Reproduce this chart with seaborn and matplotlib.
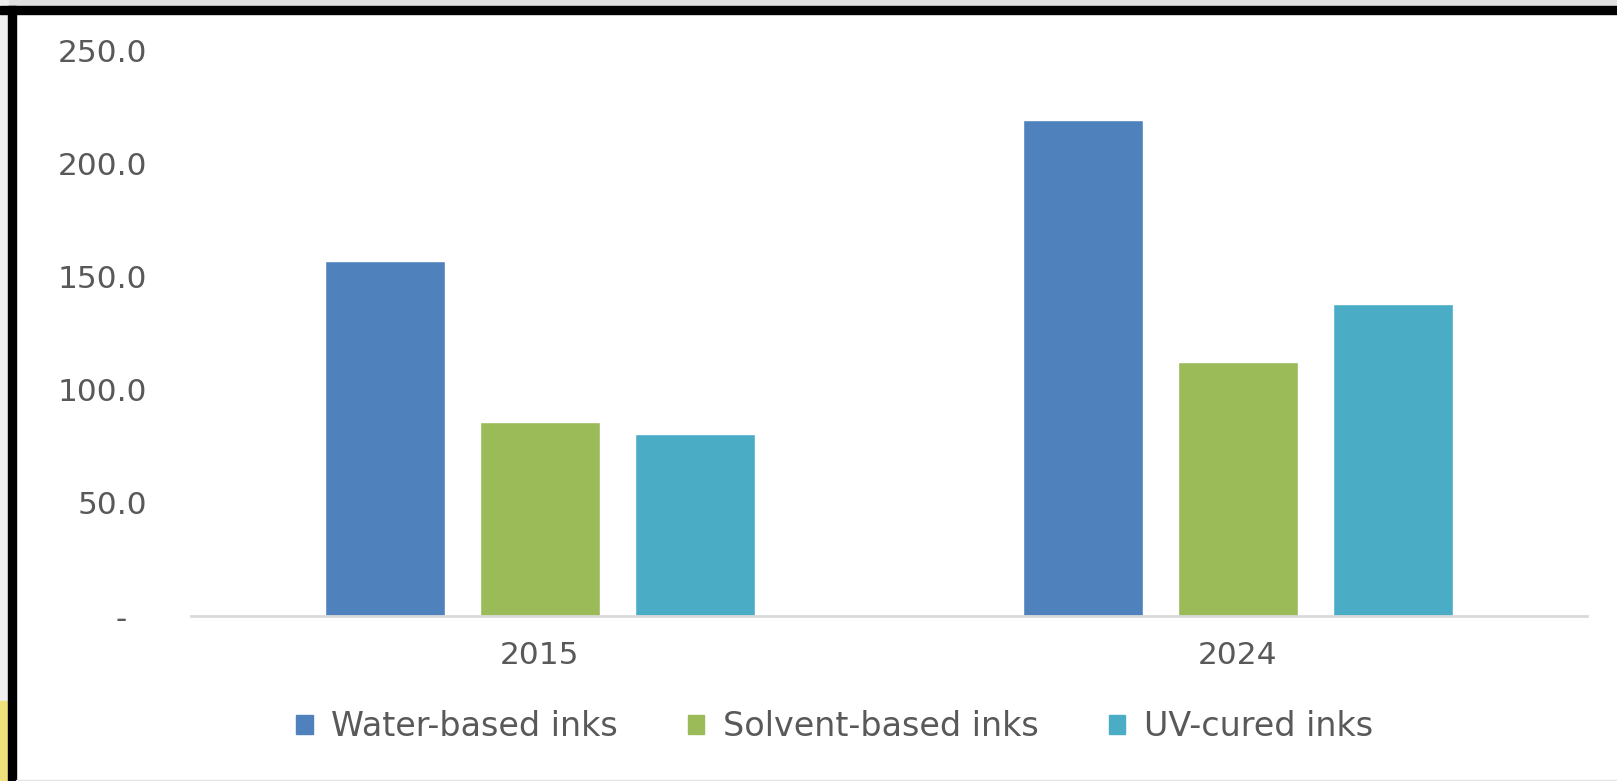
import matplotlib
matplotlib.use('Agg')
import matplotlib.pyplot as plt
import matplotlib.patches as mpatches
import seaborn as sns
import pandas as pd

# data
years = ['2015', '2024']
ink_types = ['Water-based inks', 'Solvent-based inks', 'UV-cured inks']
water_based = [157.0, 219.5]
solvent_based = [86.0, 112.5]
uv_cured = [80.5, 138.0]
y_ticks = [0, 50, 100, 150, 200, 250]
y_tick_labels = ['-  ', '50.0', '100.0', '150.0', '200.0', '250.0']

colors = ['#4F81BD', '#9BBB59', '#4BACC6']

# long table for seaborn
df = pd.DataFrame({
    'year': years * 3,
    'ink': [ink_types[0]] * 2 + [ink_types[1]] * 2 + [ink_types[2]] * 2,
    'value': water_based + solvent_based + uv_cured,
})

sns.set_theme(style='white')
plt.rcParams['font.family'] = ['DejaVu Sans']

fig = plt.figure(figsize=(16.17, 7.81), dpi=100)
fig.patch.set_facecolor('white')

# screenshot frame: grey strip, black border lines
fig.patches.append(mpatches.Rectangle((0, 1 - 6 / 781), 1, 6 / 781, transform=fig.transFigure,
                                      color='#e0e0e0', zorder=0))
fig.patches.append(mpatches.Rectangle((0, 0), 8 / 1617, 1, transform=fig.transFigure,
                                      color='#efefef', zorder=0))
fig.patches.append(mpatches.Rectangle((0, 0), 8 / 1617, 80 / 781, transform=fig.transFigure,
                                      color='#f0e27a', zorder=0))
fig.patches.append(mpatches.Rectangle((0, 1 - 14 / 781), 1, 8 / 781, transform=fig.transFigure,
                                      color='black', zorder=1))
fig.patches.append(mpatches.Rectangle((8 / 1617, 0), 8 / 1617, 1 - 6 / 781, transform=fig.transFigure,
                                      color='black', zorder=1))
fig.patches.append(mpatches.Rectangle((16 / 1617, 0), 1, 1.5 / 781, transform=fig.transFigure,
                                      color='#e4e4e4', zorder=1))

ax = fig.add_axes([191 / 1617, 1 - 616 / 781, 1396 / 1617, 565 / 781])
ax.set_facecolor('none')

sns.barplot(data=df, x='year', y='value', hue='ink', order=years, hue_order=ink_types,
            palette=colors, width=0.666, gap=0.22, errorbar=None, saturation=1,
            legend=False, ax=ax)

ax.set_xlim(-0.5, 1.5)
ax.set_ylim(0, 250)
ax.set_yticks(y_ticks)
ax.set_yticklabels(y_tick_labels)
ax.set_xlabel('')
ax.set_ylabel('')
ax.tick_params(axis='both', length=0, labelsize=22.5, labelcolor='#595959')
ax.tick_params(axis='y', pad=31.5)
ax.tick_params(axis='x', pad=18)

for side in ['top', 'right', 'left']:
    ax.spines[side].set_visible(False)
ax.spines['bottom'].set_color('#d9d9d9')
ax.spines['bottom'].set_linewidth(2)

handles = [mpatches.Patch(color=c, label=l) for c, l in zip(colors, ink_types)]
leg = fig.legend(handles=handles, loc='center', bbox_to_anchor=(0.516, 1 - 727 / 781),
                 ncol=3, frameon=False, fontsize=24, handlelength=0.5, handleheight=0.5,
                 handletextpad=0.55, columnspacing=2.1)
for t in leg.get_texts():
    t.set_color('#595959')

fig.savefig('out.png', dpi=100, facecolor='white')
